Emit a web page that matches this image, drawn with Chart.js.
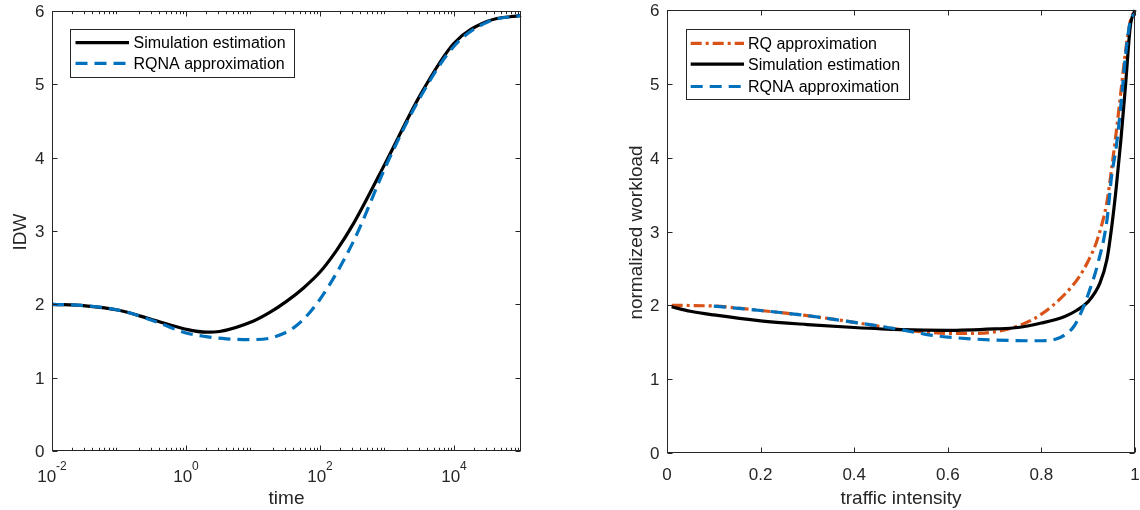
<!DOCTYPE html>
<html><head><meta charset="utf-8">
<script src="https://cdn.jsdelivr.net/npm/chart.js@4.4.1/dist/chart.umd.min.js"></script>
<style>
html,body{margin:0;padding:0;background:#fff;}
#wrap{position:relative;width:1140px;height:510px;overflow:hidden;background:#fff;}
canvas{position:absolute;top:0;}
</style></head><body>
<div id="wrap">
<canvas id="c1" width="570" height="510" style="left:0"></canvas>
<canvas id="c2" width="570" height="510" style="left:570px"></canvas>
</div>
<script>
// ---------- Left panel data (IDW vs time) ----------
const leftSimTime = [0.01, 0.0316, 0.1, 0.316, 1, 2, 3.16, 10, 17.8, 31.6, 56.2, 100, 178, 316, 1000, 3162, 10000, 31623, 100000];
const leftSimIDW  = [2.0, 1.98, 1.92, 1.79, 1.66, 1.62, 1.63, 1.77, 1.89, 2.04, 2.22, 2.44, 2.74, 3.1, 3.97, 4.86, 5.56, 5.86, 5.94];
const leftRqnaTime = [0.01, 0.0316, 0.1, 0.316, 1, 2, 4, 10, 20, 44.7, 100, 316, 1000, 3162, 10000, 31623, 100000];
const leftRqnaIDW  = [2.0, 1.98, 1.92, 1.78, 1.61, 1.56, 1.53, 1.52, 1.55, 1.71, 2.07, 2.86, 3.92, 4.83, 5.52, 5.85, 5.94];
const leftXTicks = [0.01, 1, 100, 10000];
const leftXTickExp = ['-2', '0', '2', '4'];
const yTicks = [0, 1, 2, 3, 4, 5, 6];

// ---------- Right panel data (normalized workload vs traffic intensity) ----------
const rqRho = [0.01, 0.1, 0.2, 0.3, 0.4, 0.5, 0.55, 0.6, 0.65, 0.7, 0.75, 0.8, 0.85, 0.88, 0.9, 0.92, 0.94, 0.95, 0.96, 0.97, 0.98, 0.99, 1.0];
const rqWork = [2.0, 1.99, 1.93, 1.86, 1.77, 1.67, 1.64, 1.62, 1.62, 1.64, 1.72, 1.88, 2.15, 2.38, 2.6, 2.9, 3.4, 3.85, 4.35, 4.9, 5.45, 5.85, 6.0];
const simRho = [0.01, 0.05, 0.1, 0.2, 0.3, 0.4, 0.5, 0.6, 0.7, 0.75, 0.8, 0.85, 0.875, 0.9, 0.925, 0.94, 0.95, 0.96, 0.97, 0.98, 0.99, 1.0];
const simWork = [1.98, 1.92, 1.87, 1.79, 1.74, 1.70, 1.67, 1.66, 1.68, 1.70, 1.76, 1.85, 1.93, 2.05, 2.3, 2.62, 3.05, 3.6, 4.25, 5.0, 5.78, 6.0];
const rqnaRho = [0.1, 0.2, 0.3, 0.4, 0.5, 0.55, 0.6, 0.7, 0.8, 0.83, 0.85, 0.87, 0.89, 0.9, 0.92, 0.94, 0.95, 0.96, 0.97, 0.98, 0.99, 1.0];
const rqnaWork = [1.99, 1.93, 1.86, 1.77, 1.67, 1.61, 1.57, 1.53, 1.52, 1.54, 1.60, 1.72, 1.98, 2.15, 2.55, 3.15, 3.75, 4.15, 4.72, 5.4, 5.85, 5.95];
const rightXTicks = [0, 0.2, 0.4, 0.6, 0.8, 1];
const rightXTickLabels = ['0', '0.2', '0.4', '0.6', '0.8', '1'];

const FONT = '"Liberation Sans", Arial, Helvetica, sans-serif';
const AX = '#262626';
const BLACK = '#000000', BLUE = '#0072BD', ORANGE = '#D95319';
const DASH = [12, 7], DASHDOT = [11, 4, 3, 4];

function pts(xs, ys) { return xs.map((x, i) => ({x: x, y: ys[i]})); }
function ds(label, xs, ys, color, dash, order) {
  return {label, data: pts(xs, ys), borderColor: color, borderWidth: 3.2, borderDash: dash,
    pointRadius: 0, fill: false, cubicInterpolationMode: 'monotone', order, clip: 4, borderCapStyle: 'butt'};
}

function axesPlugin(spec) {
  return {
    id: 'matlabAxes',
    afterDraw(chart) {
      const ctx = chart.ctx, a = chart.chartArea, xs = chart.scales.x, ys = chart.scales.y;
      ctx.save();
      ctx.strokeStyle = AX; ctx.lineWidth = 1;
      const L = Math.round(a.left) + 0.5, R = Math.round(a.right) - 0.5;
      const T = Math.round(a.top) + 0.5, B = Math.round(a.bottom) - 0.5;
      ctx.strokeRect(L, T, R - L, B - T);
      ctx.beginPath();
      const major = 5, minor = 2.7;
      yTicks.forEach(v => {
        const y = Math.round(ys.getPixelForValue(v)) + 0.5;
        ctx.moveTo(L, y); ctx.lineTo(L + major, y);
        ctx.moveTo(R, y); ctx.lineTo(R - major, y);
      });
      spec.xTicks.forEach(v => {
        const x = Math.round(xs.getPixelForValue(v)) + 0.5;
        ctx.moveTo(x, B); ctx.lineTo(x, B - major);
        ctx.moveTo(x, T); ctx.lineTo(x, T + major);
      });
      if (spec.log) {
        for (let k = -2; k <= 4; k++) {
          for (let m = 2; m <= 9; m++) {
            const v = m * Math.pow(10, k);
            const x = Math.round(xs.getPixelForValue(v)) + 0.5;
            ctx.moveTo(x, B); ctx.lineTo(x, B - minor);
            ctx.moveTo(x, T); ctx.lineTo(x, T + minor);
          }
        }
      }
      ctx.stroke();

      // tick labels
      ctx.fillStyle = AX;
      ctx.font = '17px ' + FONT;
      ctx.textAlign = 'right'; ctx.textBaseline = 'alphabetic';
      yTicks.forEach(v => {
        const y = ys.getPixelForValue(v);
        ctx.fillText(String(v), a.left - 7.5, y + 6);
      });
      spec.xTicks.forEach((v, i) => {
        const x = xs.getPixelForValue(v);
        if (spec.log) {
          ctx.font = '17px ' + FONT; const w1 = ctx.measureText('10').width;
          ctx.font = '12px ' + FONT; const w2 = ctx.measureText(spec.xExp[i]).width;
          const s = x - (w1 + w2) / 2;
          ctx.textAlign = 'left';
          ctx.font = '17px ' + FONT; ctx.fillText('10', s, a.bottom + 31);
          ctx.font = '12px ' + FONT; ctx.fillText(spec.xExp[i], s + w1, a.bottom + 19);
        } else {
          ctx.textAlign = 'center';
          ctx.font = '17px ' + FONT;
          ctx.fillText(spec.xLabels[i], x, a.bottom + 27);
        }
      });

      // axis titles
      ctx.font = '19px ' + FONT;
      ctx.textAlign = 'center'; ctx.textBaseline = 'alphabetic';
      ctx.fillText(spec.xTitle, (a.left + a.right) / 2, 504);
      ctx.save();
      ctx.translate(spec.yTitleX, (a.top + a.bottom) / 2 + 1);
      ctx.rotate(-Math.PI / 2);
      ctx.fillText(spec.yTitle, 0, 0);
      ctx.restore();

      // legend
      const lg = spec.legend;
      ctx.fillStyle = '#ffffff';
      ctx.fillRect(lg.box[0], lg.box[1], lg.box[2] - lg.box[0], lg.box[3] - lg.box[1]);
      ctx.strokeStyle = AX; ctx.lineWidth = 1;
      ctx.strokeRect(Math.round(lg.box[0]) + 0.5, Math.round(lg.box[1]) + 0.5,
        Math.round(lg.box[2] - lg.box[0]), Math.round(lg.box[3] - lg.box[1]));
      lg.rows.forEach(r => {
        const d = chart.data.datasets[r.ds];
        ctx.beginPath();
        ctx.strokeStyle = d.borderColor; ctx.lineWidth = 3.2;
        ctx.setLineDash(d.borderDash || []);
        ctx.moveTo(lg.sample[0], r.y); ctx.lineTo(lg.sample[1], r.y);
        ctx.stroke();
        ctx.setLineDash([]);
        ctx.fillStyle = '#000000';
        ctx.font = '16px ' + FONT; ctx.textAlign = 'left';
        ctx.fillText(d.label, lg.textX, r.y + 5.7);
      });
      ctx.restore();
    }
  };
}

function baseOptions(xScale, padding) {
  return {
    responsive: false, animation: false, events: [],
    layout: {padding},
    plugins: {legend: {display: false}, tooltip: {enabled: false}},
    scales: {
      x: Object.assign({display: false}, xScale),
      y: {type: 'linear', min: 0, max: 6, display: false}
    }
  };
}

new Chart(document.getElementById('c1'), {
  type: 'line',
  data: {datasets: [
    ds('Simulation estimation', leftSimTime, leftSimIDW, BLACK, [], 2),
    ds('RQNA approximation', leftRqnaTime, leftRqnaIDW, BLUE, DASH, 1)
  ]},
  options: baseOptions({type: 'logarithmic', min: 0.01, max: 100000}, {left: 52, right: 49, top: 11, bottom: 59}),
  plugins: [axesPlugin({
    log: true, xTicks: leftXTicks, xExp: leftXTickExp, xTitle: 'time', yTitle: 'IDW', yTitleX: 26,
    legend: {box: [69.5, 29, 293.5, 77], sample: [75.5, 129], textX: 133.5,
      rows: [{ds: 0, y: 42.7}, {ds: 1, y: 63.3}]}
  })]
});

new Chart(document.getElementById('c2'), {
  type: 'line',
  data: {datasets: [
    ds('RQ approximation', rqRho, rqWork, ORANGE, DASHDOT, 3),
    ds('Simulation estimation', simRho, simWork, BLACK, [], 2),
    ds('RQNA approximation', rqnaRho, rqnaWork, BLUE, DASH, 1)
  ]},
  options: baseOptions({type: 'linear', min: 0, max: 1}, {left: 97, right: 5, top: 10, bottom: 57}),
  plugins: [axesPlugin({
    log: false, xTicks: rightXTicks, xLabels: rightXTickLabels, xTitle: 'traffic intensity',
    yTitle: 'normalized workload', yTitleX: 641.5 - 570,
    legend: {box: [685.5 - 570, 28.5, 908.5 - 570, 98.5], sample: [690.7 - 570, 744 - 570], textX: 748 - 570,
      rows: [{ds: 0, y: 43.3}, {ds: 1, y: 64.2}, {ds: 2, y: 86.5}]}
  })]
});
</script>
</body></html>
